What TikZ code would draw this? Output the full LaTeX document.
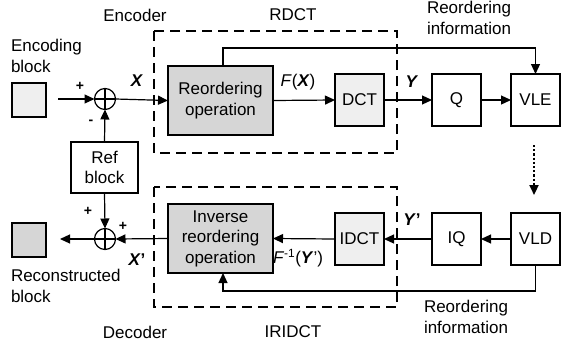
\documentclass[tikz,border=0pt]{standalone}
\usepackage{fontspec}
\setmainfont{Liberation Sans}
\usetikzlibrary{arrows.meta}
\definecolor{lightfill}{HTML}{EFEFEF}
\definecolor{darkfill}{HTML}{D6D6D6}
\begin{document}
\begin{tikzpicture}[x=1pt,y=-1pt,
  font=\fontsize{17}{20.5}\selectfont,
  every node/.style={inner sep=0pt, outer sep=0pt},
  blk/.style={draw, line width=1.2pt, align=center},
  sq/.style={blk, minimum width=34pt, minimum height=34pt},
  sm/.style={blk, minimum width=49pt, minimum height=52pt},
  big/.style={blk, minimum width=105pt, minimum height=69pt, fill=darkfill},
  sumc/.style={draw, line width=1.2pt, circle, minimum size=21pt},
  arr/.style={line width=1.2pt, -{Triangle[length=10pt,width=9pt]}},
  ln/.style={line width=1.2pt},
  dbox/.style={line width=2.4pt, dash pattern=on 10pt off 6pt},
  sgn/.style={font=\fontsize{14}{14}\selectfont\bfseries},
  lbl/.style={font=\fontsize{17}{20.5}\selectfont}
]
\useasboundingbox (0,0) rectangle (561,343);

% dashed groups
\draw[dbox] (154,31) rectangle (397,153);
\draw[dbox] (154,187) rectangle (397,307);

% encoder row
\node[sq, fill=lightfill] (enc) at (29,100) {};
\node[sumc] (s1) at (105,99) {};
\draw[ln] (s1.north) -- (s1.south) (s1.west) -- (s1.east);
\node[blk, minimum width=67pt, minimum height=51pt] (ref) at (104.5,167.5) {Ref\\block};
\node[big] (ro) at (220.5,100.5) {Reordering\\operation};
\node[sm, fill=lightfill] (dct) at (359.5,100) {DCT};
\node[sm] (q) at (456.5,100) {Q};
\node[sm] (vle) at (535.5,100) {VLE};

% decoder row
\node[sq, fill=darkfill] (rec) at (29,240) {};
\node[sumc] (s2) at (105,239) {};
\draw[ln] (s2.north) -- (s2.south) (s2.west) -- (s2.east);
\node[big] (iro) at (220.5,238.5) {Inverse\\reordering\\operation};
\node[sm, fill=lightfill] (idct) at (359.5,239) {IDCT};
\node[sm] (iq) at (456.5,239) {IQ};
\node[sm] (vld) at (535.5,239) {VLD};

% connectors
\coordinate (in1) at (58,99);
\coordinate (out1) at (60,239);
\draw[arr] (in1) -- (s1.west);
\draw[arr] (ref.north) -- (s1.south);
\draw[arr] (s1.east) -- (ro.west);
\draw[arr] (ro.east) -- (dct.west);
\draw[arr] (dct.east) -- (q.west);
\draw[arr] (q.east) -- (vle.west);
\draw[arr] ([xshift=2.5pt]ro.north) -- ++(0,-18) -| (vle.north);
\draw[line width=2.2pt, dotted, -{Triangle[length=10pt,width=9pt]}, shorten <=19pt, shorten >=18pt] ([xshift=-1.5pt]vle.south) -- ([xshift=-1.5pt]vld.north);
\draw[arr] (vld.west) -- (iq.east);
\draw[arr] (iq.west) -- (idct.east);
\draw[arr] (idct.west) -- (iro.east);
\draw[arr] (vld.south) -- ++(0,26) -| ([xshift=2.5pt]iro.south);
\draw[arr] (iro.west) -- (s2.east);
\draw[arr] (ref.south) -- (s2.north);
\draw[arr] (s2.west) -- (out1);

% labels
\node[lbl] (tenc) at (135,15) {Encoder};
\node[lbl] (trdct) at (293,15) {RDCT};
\node[lbl, anchor=west, align=left] (tencb) at (11,56) {Encoding\\block};
\node[lbl, anchor=west, align=left] (tri1) at (427,18) {Reordering\\information};
\node[lbl] (lx) at (137,81) {\textbf{\textit{X}}};
\node[lbl] (lfx) at (298,82) {\textit{F}(\textbf{\textit{X}})};
\node[lbl] (ly) at (412,82) {\textbf{\textit{Y}}};
\node[sgn] (p1) at (80,86) {+};
\node[sgn] (m1) at (91,122) {-};
\node[sgn] (p2) at (88,211) {+};
\node[sgn] (p3) at (123,226) {+};
\node[lbl] (lxp) at (137,260) {\textbf{\textit{X}}\textbf{'}};
\node[lbl] (lyp) at (412,220) {\textbf{\textit{Y}}\textbf{'}};
\node[lbl] (lfy) at (298,258) {\textit{F}\textsuperscript{-1}(\textbf{\textit{Y}}')};
\node[lbl, anchor=west, align=left] (trec) at (11,286) {Reconstructed\\block};
\node[lbl, anchor=west, align=left] (tri2) at (424,317) {Reordering\\information};
\node[lbl] (tdec) at (135,332) {Decoder};
\node[lbl] (tiri) at (293,332) {IRIDCT};
\end{tikzpicture}
\end{document}
